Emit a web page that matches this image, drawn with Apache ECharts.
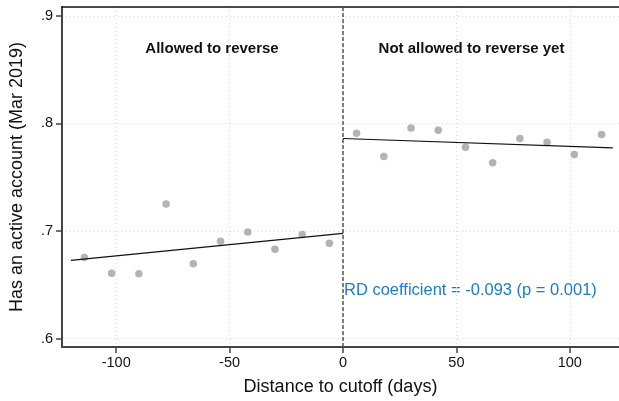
<!DOCTYPE html>
<html>
<head>
<meta charset="utf-8">
<script src="https://cdn.jsdelivr.net/npm/echarts@6/dist/echarts.min.js"></script>
<style>
html,body{margin:0;padding:0;background:#fff;}
#chart{width:619px;height:401px;}
</style>
</head>
<body>
<div id="chart"></div>
<script>
// Binned scatter data: distance to cutoff (days) and share with active account
var leftX = [-114, -102, -90, -78, -66, -54, -42, -30, -18, -6];
var leftY = [0.6754, 0.6608, 0.6602, 0.7252, 0.6696, 0.6905, 0.6991, 0.6830, 0.6967, 0.6887];
var rightX = [6, 18, 30, 42, 54, 66, 78, 90, 102, 114];
var rightY = [0.7908, 0.7693, 0.7958, 0.7936, 0.7778, 0.7635, 0.7860, 0.7824, 0.7711, 0.7897];
// Linear fits on each side of the cutoff
var leftFitX = [-120, 0];
var leftFitY = [0.6727, 0.6978];
var rightFitX = [0, 119];
var rightFitY = [0.7860, 0.7772];
var xTicks = [-100, -50, 0, 50, 100];
var yTicks = [0.6, 0.7, 0.8, 0.9];
var xMin = -123.9, xMax = 121.7, yMin = 0.5922, yMax = 0.9082;
var cutoff = 0;
var labelLeft = 'Allowed to reverse';
var labelRight = 'Not allowed to reverse yet';
var rdText = 'RD coefficient = -0.093 (p = 0.001)';

function zip(xs, ys){ return xs.map(function(x,i){ return [x, ys[i]]; }); }

var FONT = '"Liberation Sans", Arial, sans-serif';
var chart = echarts.init(document.getElementById('chart'), null, {renderer:'canvas'});
var option = {
  animation: false,
  backgroundColor: '#fff',
  textStyle: {fontFamily: FONT},
  grid: {left: 60, top: 7, right: 0, bottom: 47.5, containLabel: false},
  xAxis: [{
    type: 'value', min: xMin, max: xMax,
    name: 'Distance to cutoff (days)', nameLocation: 'middle', nameGap: 31,
    nameTextStyle: {fontSize: 18, color: '#111', fontFamily: FONT},
    axisLine: {show: true, onZero: false, lineStyle: {color: '#444', width: 2}},
    axisTick: {show: true, length: 6, customValues: xTicks, lineStyle: {color: '#444', width: 1.5}},
    axisLabel: {customValues: xTicks, fontSize: 14.5, color: '#111', margin: 8, fontFamily: FONT},
    splitLine: {show: true, lineStyle: {color: '#d8d8d8', type: [1, 3], width: 1}}
  }, {
    type: 'value', min: xMin, max: xMax, position: 'top',
    axisLine: {show: true, lineStyle: {color: '#111', width: 1.5}},
    axisTick: {show: false}, axisLabel: {show: false}, splitLine: {show: false}
  }],
  yAxis: {
    type: 'value', min: yMin, max: yMax,
    name: 'Has an active account (Mar 2019)', nameLocation: 'middle', nameGap: 36,
    nameTextStyle: {fontSize: 18, color: '#111', fontFamily: FONT},
    axisLine: {show: true, onZero: false, lineStyle: {color: '#444', width: 2}},
    axisTick: {show: true, length: 6, customValues: yTicks, lineStyle: {color: '#444', width: 1.5}},
    axisLabel: {customValues: yTicks, fontSize: 14.5, color: '#111', margin: 9, fontFamily: FONT,
      formatter: function(v){ return String(Math.round(v*10)/10).replace(/^0/, ''); }},
    splitLine: {show: true, lineStyle: {color: '#d8d8d8', type: [1, 3], width: 1}}
  },
  series: [
    {type: 'scatter', data: zip(leftX, leftY), symbolSize: 7.5, itemStyle: {color: '#a0a0a0'}, z: 3},
    {type: 'scatter', data: zip(rightX, rightY), symbolSize: 7.5, itemStyle: {color: '#a0a0a0'}, z: 3},
    {type: 'line', data: zip(leftFitX, leftFitY), symbol: 'none', lineStyle: {color: '#111', width: 1.2}, z: 4},
    {type: 'line', data: zip(rightFitX, rightFitY), symbol: 'none', lineStyle: {color: '#111', width: 1.2}, z: 4,
      markLine: {silent: true, symbol: 'none', label: {show: false},
        lineStyle: {color: '#555', type: [4, 2], width: 1.5},
        data: [{xAxis: cutoff}]}}
  ],
  graphic: [
    {type: 'text', x: 212, y: 49, style: {text: labelLeft, fill: '#111', font: 'bold 15px ' + FONT, align: 'center', verticalAlign: 'middle'}},
    {type: 'text', x: 471.5, y: 49, style: {text: labelRight, fill: '#111', font: 'bold 15px ' + FONT, align: 'center', verticalAlign: 'middle'}},
    {type: 'text', x: 344, y: 290, style: {text: rdText, fill: '#1a7fc1', font: '16.5px ' + FONT, align: 'left', verticalAlign: 'middle'}}
  ]
};
chart.setOption(option);
</script>
</body>
</html>
